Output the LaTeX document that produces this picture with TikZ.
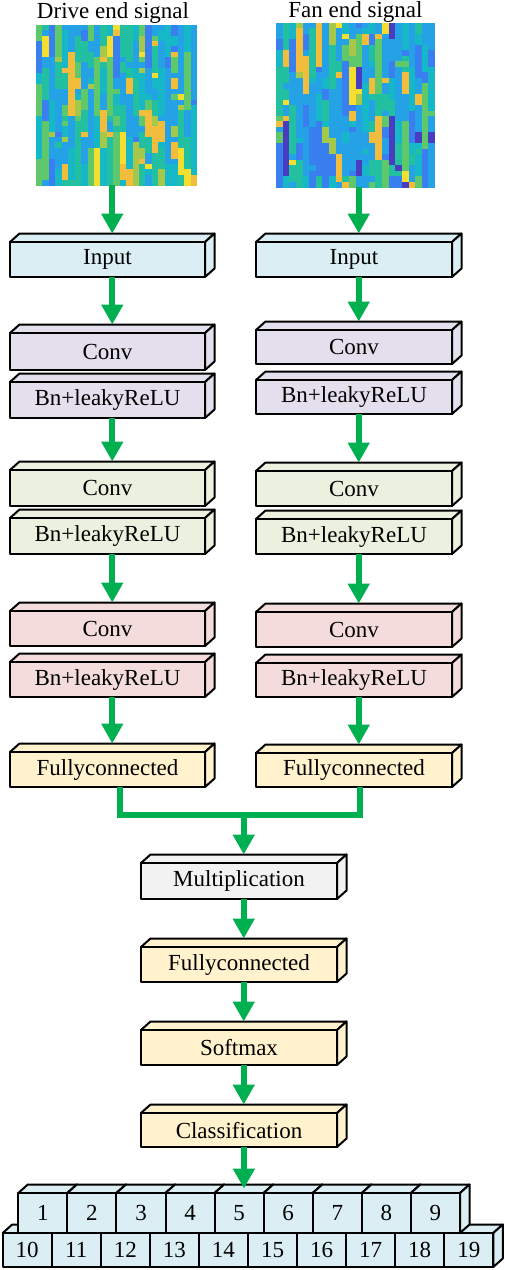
\documentclass[tikz,border=0pt]{standalone}
\usepackage{fontspec}
\setmainfont{Liberation Serif}
\usetikzlibrary{arrows.meta,calc}
\definecolor{cInput}{HTML}{DAEEF3}
\definecolor{cConv}{HTML}{E4DFEC}
\definecolor{cGreen}{HTML}{EBF1DE}
\definecolor{cRed}{HTML}{F4DCDC}
\definecolor{cYellow}{HTML}{FFF2CC}
\definecolor{cGray}{HTML}{F2F2F2}
\definecolor{cArrow}{HTML}{00B050}
\definecolor{hmA}{HTML}{4A3CC0}
\definecolor{hmB}{HTML}{3A7FF0}
\definecolor{hmC}{HTML}{25A2E6}
\definecolor{hmD}{HTML}{16B8C8}
\definecolor{hmE}{HTML}{22BFA0}
\definecolor{hmF}{HTML}{5EC86A}
\definecolor{hmG}{HTML}{A6C84A}
\definecolor{hmH}{HTML}{F2BC3C}
\definecolor{hmI}{HTML}{F4DE30}
\newcommand{\bdx}{9.5}
\newcommand{\bdy}{8.5}
\tikzset{
  boxedge/.style={draw=black,line width=2pt,line join=round},
  arr/.style={draw=cArrow,line width=6pt,-{Triangle[width=21pt,length=20pt]}},
  conn/.style={draw=cArrow,line width=5.5pt,line join=miter},
  imgframe/.style={minimum width=#1,inner sep=0pt,outer sep=0pt,anchor=north west},
}
% 3D box: name, x1, y1 (front top-left), x2, y2 (front bottom-right), fill, text
\newcommand{\tdbox}[7]{%
  \filldraw[boxedge,fill=#6] (#2,#3) -- ({#2+\bdx},{#3-\bdy}) -- ({#4+\bdx},{#3-\bdy}) -- (#4,#3) -- cycle;
  \filldraw[boxedge,fill=#6] (#4,#3) -- ({#4+\bdx},{#3-\bdy}) -- ({#4+\bdx},{#5-\bdy}) -- (#4,#5) -- cycle;
  \node[boxedge,fill=#6,anchor=north west,minimum width={(#4-#2)*1pt},minimum height={(#5-#3)*1pt},inner sep=0pt,outer sep=0pt] (#1) at (#2,#3) {#7};
  \coordinate (#1-top) at ({(#2+#4)/2+\bdx/2},{#3-\bdy});
}
\newcommand{\hmpick}[1]{%
  \ifnum#1<\hmtA\relax\xdef\hmprev{A}\else
  \ifnum#1<\hmtB\relax\xdef\hmprev{B}\else
  \ifnum#1<\hmtC\relax\xdef\hmprev{C}\else
  \ifnum#1<\hmtD\relax\xdef\hmprev{D}\else
  \ifnum#1<\hmtE\relax\xdef\hmprev{E}\else
  \ifnum#1<\hmtF\relax\xdef\hmprev{F}\else
  \ifnum#1<\hmtG\relax\xdef\hmprev{G}\else
  \ifnum#1<\hmtH\relax\xdef\hmprev{H}\else
  \xdef\hmprev{I}\fi\fi\fi\fi\fi\fi\fi\fi}
% heatmap: x0, y0, ncols, nrows, cell w, cell h, keep percentage
\newcommand{\heatmap}[7]{%
  \begin{scope}
  \clip (#1,#2) rectangle ({#1+#3*#5},{#2+#4*#6});
  \foreach \hi in {1,...,#3}{%
    \pgfmathrandominteger{\hms}{1}{100}%
    \hmpick{\hms}%
    \foreach \hj in {1,...,#4}{%
      \pgfmathrandominteger{\hmr}{1}{100}%
      \ifnum\hmr>#7\relax
        \pgfmathrandominteger{\hms}{1}{100}%
        \hmpick{\hms}%
      \fi
      \edef\hmcol{hm\hmprev}%
      \fill[fill=\hmcol] ({#1+(\hi-1)*#5},{#2+(\hj-1)*#6}) rectangle ++({#5+0.4},{#6+0.4});
    }%
  }%
  \end{scope}
}
\begin{document}
\begin{tikzpicture}[x=1pt,y=-1pt,font=\fontsize{23pt}{27pt}\selectfont]
\useasboundingbox (0,0) rectangle (505,1270);
\fill[white] (0,0) rectangle (505,1270);

% titles
\node[anchor=base,font=\fontsize{23pt}{27pt}\selectfont] (ltitle) at (113,18.3) {Drive end signal};
\node[anchor=base,font=\fontsize{23pt}{27pt}\selectfont] (rtitle) at (355.5,17.3) {Fan end signal};

% heatmaps
\pgfmathsetseed{2024}
\def\hmtA{1}\def\hmtB{5}\def\hmtC{33}\def\hmtD{51}\def\hmtE{67}\def\hmtF{81}\def\hmtG{87}\def\hmtH{97}
\heatmap{36}{25}{25}{30}{6.44}{5.34}{72}
\node[imgframe=161pt,minimum height=160pt] (limg) at (36,25) {};
\pgfmathsetseed{777}
\def\hmtA{3}\def\hmtB{16}\def\hmtC{45}\def\hmtD{60}\def\hmtE{72}\def\hmtF{82}\def\hmtG{86}\def\hmtH{97}
\heatmap{276}{23}{24}{30}{6.625}{5.47}{70}
\node[imgframe=159pt,minimum height=164pt] (rimg) at (276,23) {};

% left column
\tdbox{lInput}{10}{242}{205}{277}{cInput}{Input}
\tdbox{lConvA}{10}{333}{205}{370}{cConv}{Conv}
\tdbox{lBnA}{10}{382}{205}{418}{cConv}{Bn+leakyReLU}
\tdbox{lConvB}{10}{470}{205}{506}{cGreen}{Conv}
\tdbox{lBnB}{10}{518}{205}{554}{cGreen}{Bn+leakyReLU}
\tdbox{lConvC}{10}{611}{205}{646}{cRed}{Conv}
\tdbox{lBnC}{10}{662}{205}{697}{cRed}{Bn+leakyReLU}
\tdbox{lFC}{10}{752}{205}{787}{cYellow}{Fullyconnected}

% right column
\tdbox{rInput}{256}{242}{452}{277}{cInput}{Input}
\tdbox{rConvA}{256}{330}{452}{364}{cConv}{Conv}
\tdbox{rBnA}{256}{380}{452}{414}{cConv}{Bn+leakyReLU}
\tdbox{rConvB}{256}{471}{452}{506}{cGreen}{Conv}
\tdbox{rBnB}{256}{519}{452}{554}{cGreen}{Bn+leakyReLU}
\tdbox{rConvC}{256}{612}{452}{647}{cRed}{Conv}
\tdbox{rBnC}{256}{663}{452}{697}{cRed}{Bn+leakyReLU}
\tdbox{rFC}{256}{753}{452}{787}{cYellow}{Fullyconnected}

% middle column
\tdbox{mult}{141}{863}{337}{899}{cGray}{Multiplication}
\tdbox{mFC}{141}{947}{337}{982}{cYellow}{Fullyconnected}
\tdbox{soft}{141}{1030}{337}{1065}{cYellow}{Softmax}
\tdbox{cls}{141}{1113}{337}{1147}{cYellow}{Classification}

% class cells, back row drawn first (10-19), then front row (1-9)
\foreach \n [count=\k from 0] in {10,...,19}{
  \pgfmathsetmacro{\xa}{2.7+\k*49.06}
  \pgfmathsetmacro{\xb}{2.7+(\k+1)*49.06}
  \tdbox{c\n}{\xa}{1233}{\xb}{1267}{cInput}{\n}
}
\foreach \n [count=\k from 0] in {1,...,9}{
  \pgfmathsetmacro{\xa}{18.3+\k*49.08}
  \pgfmathsetmacro{\xb}{18.3+(\k+1)*49.08}
  \tdbox{c\n}{\xa}{1193}{\xb}{1233}{cInput}{\n}
}

% arrows, left
\draw[arr] (limg.south -| lInput-top) -- (lInput-top);
\draw[arr] (lInput.south -| lConvA-top) -- (lConvA-top);
\draw[arr] (lBnA.south -| lConvB-top) -- (lConvB-top);
\draw[arr] (lBnB.south -| lConvC-top) -- (lConvC-top);
\draw[arr] (lBnC.south -| lFC-top) -- (lFC-top);
% arrows, right
\draw[arr] (rimg.south -| rInput-top) -- (rInput-top);
\draw[arr] (rInput.south -| rConvA-top) -- (rConvA-top);
\draw[arr] (rBnA.south -| rConvB-top) -- (rConvB-top);
\draw[arr] (rBnB.south -| rConvC-top) -- (rConvC-top);
\draw[arr] (rBnC.south -| rFC-top) -- (rFC-top);

% merge
\coordinate (merge) at (243.75,815);
\draw[conn] ([xshift=12.5pt]lFC.south) |- (merge) -| ([xshift=6pt]rFC.south);
\draw[arr] (merge) -- (mult-top);
\draw[arr] (mult.south -| mFC-top) -- (mFC-top);
\draw[arr] (mFC.south -| soft-top) -- (soft-top);
\draw[arr] (soft.south -| cls-top) -- (cls-top);
\draw[arr] (cls.south -| c5-top) -- ([yshift=-4pt]c5-top);
\end{tikzpicture}
\end{document}
